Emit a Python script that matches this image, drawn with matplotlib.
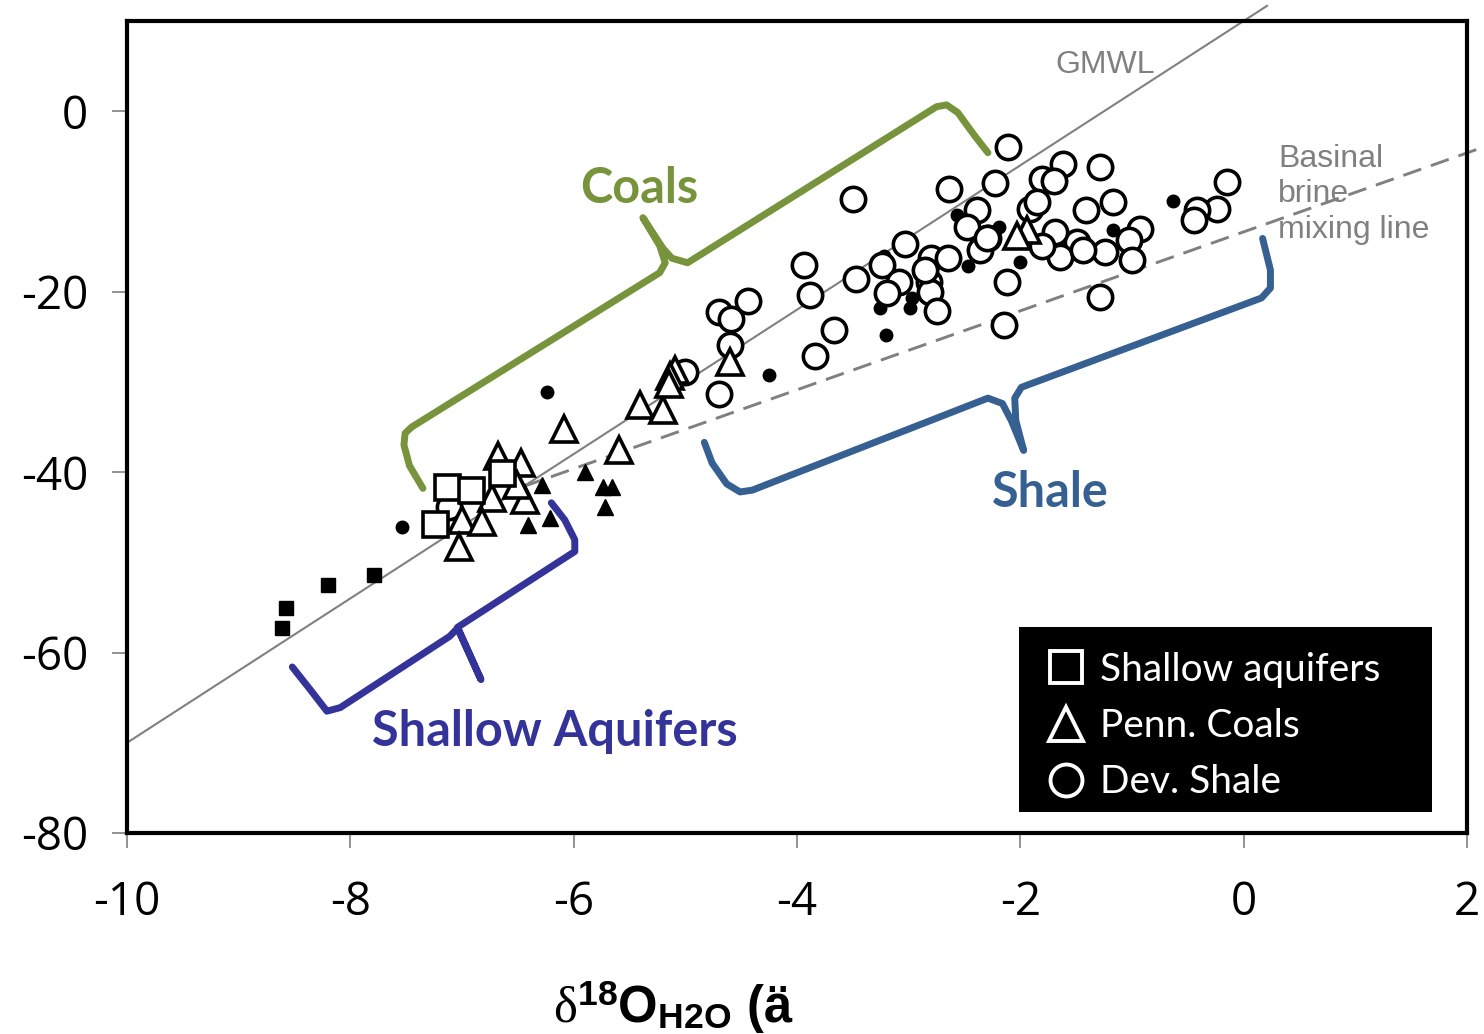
import matplotlib
matplotlib.use("Agg")
import matplotlib.pyplot as plt
from matplotlib.lines import Line2D
from matplotlib.patches import Rectangle

# ----- Data ----- #

# Dev. Shale (open circles)
shale_x = [-5.00, -4.70, -4.44, -4.59, -4.60, -4.70, -3.94, -3.88, -3.67, -3.84,
           -3.47, -3.24, -3.03, -3.09, -3.19, -2.80, -2.65, -2.82, -2.81, -2.75,
           -2.29, -2.36, -2.11, -3.50, -2.64, -2.23, -1.62, -1.81, -1.70, -1.29,
           -0.15, -0.24, -0.42, -0.44, -1.17, -1.41, -0.93, -1.03, -1.00, -1.24,
           -1.49, -1.64, -1.69, -1.44, -1.81, -1.91, -1.85, -2.39, -2.48, -2.30,
           -2.12, -2.15, -1.29, -7.12, -2.85]
shale_y = [-28.9, -22.3, -21.0, -23.0, -25.9, -31.3, -17.1, -20.4, -24.3, -27.1,
           -18.6, -17.1, -14.7, -18.9, -20.2, -16.3, -16.3, -18.9, -20.0, -22.1,
           -14.0, -15.4, -4.0, -9.7, -8.6, -8.0, -5.8, -7.5, -7.7, -6.2,
           -7.9, -10.8, -11.0, -12.1, -10.1, -11.0, -13.0, -14.3, -16.5, -15.6,
           -14.5, -16.2, -13.4, -15.4, -14.9, -10.8, -10.1, -11.0, -12.8, -14.1,
           -18.9, -23.7, -20.6, -43.9, -17.6]

# Penn. Coals (open triangles)
coal_x = [-6.68, -6.47, -6.73, -7.00, -6.82, -7.03, -6.44, -6.51, -6.09, -5.59,
          -5.41, -5.20, -5.09, -5.14, -5.15, -4.60, -1.94, -2.03]
coal_y = [-38.2, -39.0, -42.9, -45.3, -45.5, -48.3, -43.1, -41.4, -35.2, -37.6,
          -32.6, -33.1, -28.7, -29.4, -30.2, -27.8, -13.2, -13.8]

# Shallow aquifers (open squares)
aquifer_x = [-7.13, -6.92, -7.24, -6.64]
aquifer_y = [-41.6, -42.0, -45.7, -40.1]

# Unlabelled reference data (small filled markers)
ref_sq_x = [-8.58, -8.61, -8.20, -7.79]
ref_sq_y = [-55.1, -57.3, -52.5, -51.4]
ref_dot_x = [-7.54, -6.24, -4.25, -3.20, -3.26, -2.99, -2.97, -2.47, -2.57, -2.19,
             -0.63, -3.22, -2.00, -1.17]
ref_dot_y = [-46.1, -31.1, -29.2, -24.8, -21.8, -21.8, -20.7, -17.2, -11.5, -12.8,
             -9.9, -16.0, -16.7, -13.2]
ref_tri_x = [-6.28, -5.90, -5.74, -5.66, -5.72, -6.41, -6.21]
ref_tri_y = [-41.4, -40.0, -41.6, -41.6, -43.9, -45.9, -45.1]

# Reference lines
gmwl_x = [-10.0, 0.21]
mix_x = [-6.45, 2.12]
mix_y = [-41.6, -4.1]

x_ticks = [-10, -8, -6, -4, -2, 0, 2]
y_ticks = [-80, -60, -40, -20, 0]
legend_labels = ["Shallow aquifers", "Penn. Coals", "Dev. Shale"]

# Curly brace outlines (annotation shapes)
coal_brace = [(-7.35, -41.8), (-7.47, -39.3), (-7.52, -37.0), (-7.51, -35.7), (-7.45, -35.0),
              (-5.23, -17.9), (-5.18, -16.8), (-5.23, -14.9), (-5.38, -11.8), (-5.20, -15.2),
              (-5.12, -16.3), (-4.98, -16.8), (-2.75, 0.5), (-2.66, 0.7), (-2.56, -0.15),
              (-2.41, -2.7), (-2.29, -4.6)]
shale_brace = [(-4.83, -36.7), (-4.76, -39.0), (-4.63, -41.3), (-4.51, -42.2), (-4.40, -42.0),
               (-2.29, -31.8), (-2.16, -32.4), (-2.08, -34.3), (-1.97, -37.6), (-2.04, -34.3),
               (-2.05, -31.8), (-1.99, -30.6), (0.16, -20.7), (0.24, -19.6), (0.24, -17.6),
               (0.17, -14.1)]
aquifer_brace = [(-8.52, -61.6), (-8.36, -64.1), (-8.21, -66.5), (-8.09, -66.1), (-7.11, -58.2),
                 (-7.04, -57.3), (-6.97, -59.2), (-6.83, -63.0), (-7.04, -57.2), (-5.99, -48.8),
                 (-5.99, -47.5), (-6.08, -45.3), (-6.20, -43.4)]

# ----- Style ----- #
GREEN = "#77933C"
BLUE = "#376092"
NAVY = "#333399"
GRAY = "#808080"

plt.rcParams["axes.unicode_minus"] = False
plt.rcParams["mathtext.fontset"] = "custom"
plt.rcParams["mathtext.rm"] = "Liberation Serif"
plt.rcParams["mathtext.bf"] = "Liberation Sans:bold"
plt.rcParams["mathtext.default"] = "rm"

fig = plt.figure(figsize=(14.84, 10.34), dpi=100)
ax = fig.add_axes([0.0856, 0.1944, 0.9029, 0.7853])

# Lines
ax.plot(gmwl_x, [8 * x + 10 for x in gmwl_x], color=GRAY, lw=1.5, clip_on=False, zorder=2)
ax.plot(mix_x, mix_y, color=GRAY, lw=2.1, ls=(0, (6.5, 3.5)), clip_on=False, zorder=2)

# Small filled markers
ax.plot(ref_sq_x, ref_sq_y, "s", color="black", ms=10.5, ls="none", zorder=3)
ax.plot(ref_dot_x, ref_dot_y, "o", color="black", ms=9, ls="none", zorder=3)
ax.plot(ref_tri_x, ref_tri_y, "^", color="black", ms=11, ls="none", zorder=3)

# Open markers
ax.plot(shale_x, shale_y, "o", mfc="white", mec="black", mew=2.6, ms=17.5, ls="none", zorder=4)
ax.plot(coal_x, coal_y, "^", mfc="white", mec="black", mew=2.6, ms=19, ls="none", zorder=5)
ax.plot(aquifer_x, aquifer_y, "s", mfc="white", mec="black", mew=2.6, ms=18, ls="none", zorder=6)

# Braces
for pts, col in [(coal_brace, GREEN), (shale_brace, BLUE), (aquifer_brace, NAVY)]:
    ax.plot([p[0] for p in pts], [p[1] for p in pts], color=col, lw=5,
            solid_joinstyle="round", solid_capstyle="round", zorder=7)

ax.text(-5.94, -10.2, "Coals", color=GREEN, fontsize=35, fontweight="bold",
        family="Lato", va="baseline", ha="left")
ax.text(-2.25, -43.9, "Shale", color=BLUE, fontsize=35, fontweight="bold",
        family="Lato", va="baseline", ha="left")
ax.text(-7.81, -70.4, "Shallow Aquifers", color=NAVY, fontsize=35, fontweight="bold",
        family="Lato", va="baseline", ha="left")
ax.text(-1.69, 4.2, "GMWL", color=GRAY, fontsize=23, family="Liberation Sans",
        va="baseline", ha="left")
# multi-line text with va="baseline" anchors on its last line
ax.text(0.31, -14.0, "Basinal\nbrine\nmixing line", color=GRAY, fontsize=23,
        family="Liberation Sans", va="baseline", ha="left", linespacing=1.23)

# Axes
ax.set_xlim(-10, 2)
ax.set_ylim(-80, 10)
ax.set_xticks(x_ticks)
ax.set_yticks(y_ticks)
ax.set_xticklabels([str(t) for t in x_ticks])
ax.set_yticklabels([str(t) for t in y_ticks])
for side in ["left", "right", "top", "bottom"]:
    ax.spines[side].set_linewidth(3)
    ax.spines[side].set_zorder(8)
ax.tick_params(axis="both", direction="out", length=11, width=1.2, color=GRAY, labelsize=33)
ax.tick_params(axis="x", pad=23)
ax.tick_params(axis="y", pad=17)
for lab in ax.get_xticklabels() + ax.get_yticklabels():
    lab.set_family("Open Sans")

# Legend: black box drawn as a patch, frameless legend on top
ax.add_patch(Rectangle((0.666, 0.026), 0.308, 0.228, transform=ax.transAxes,
                       facecolor="black", edgecolor="none", zorder=9))
handles = [
    Line2D([], [], marker="s", ls="none", mfc="black", mec="white", mew=2.8, ms=23),
    Line2D([], [], marker="^", ls="none", mfc="black", mec="white", mew=2.8, ms=25),
    Line2D([], [], marker="o", ls="none", mfc="black", mec="white", mew=2.8, ms=23),
]
leg = ax.legend(handles, legend_labels, loc="upper left", bbox_to_anchor=(0.666, 0.254),
                frameon=False, borderaxespad=0, prop={"family": "Lato", "size": 28},
                labelcolor="white", handlelength=1.1, handletextpad=0.33,
                labelspacing=0.52, borderpad=0.65)
leg.set_zorder(10)

# X label (cut off at the bottom edge, as in the source)
fig.text(0.3727, 0.0116, r"$\delta^{\mathbf{18}}\mathbf{O}_{\mathbf{H2O}}$ (ä",
         fontsize=36.5, fontweight="bold", family="Liberation Sans", va="baseline", ha="left")

fig.savefig("out.png", dpi=100)
